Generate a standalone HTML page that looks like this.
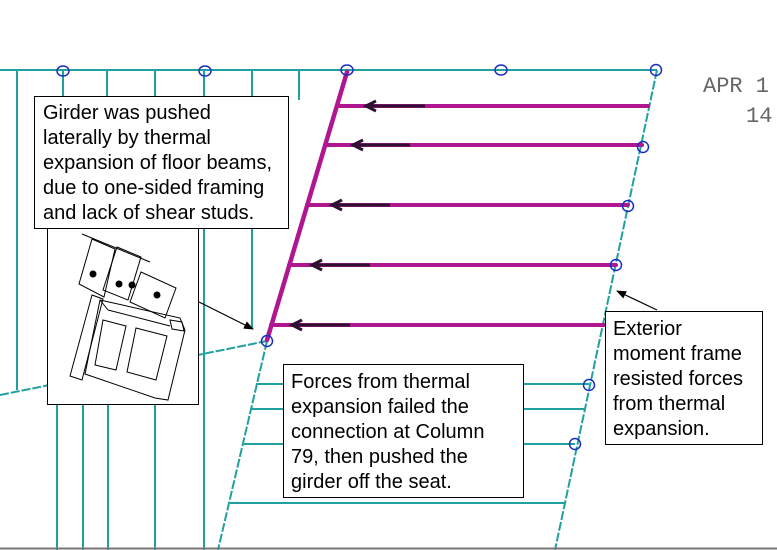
<!DOCTYPE html>
<html><head><meta charset="utf-8"><style>
body{margin:0;background:#fff;width:777px;height:550px;overflow:hidden;position:relative;font-family:"Liberation Sans",Arial,sans-serif}
.box{position:absolute;background:#fff;border:1px solid #000;font-size:20px;line-height:25px;color:#000;box-sizing:border-box;white-space:nowrap}
</style></head><body>
<svg width="777" height="550" style="position:absolute;left:0;top:0">
<defs><marker id="ah" markerWidth="10" markerHeight="8" refX="9" refY="4" orient="auto" markerUnits="userSpaceOnUse"><path d="M0,0 L10,4 L0,8 z" fill="#000"/></marker></defs>
<g stroke="#20a0a0" stroke-width="2" fill="none">
<line x1="0" y1="70" x2="657" y2="70"/>
<line x1="17" y1="70" x2="17" y2="390"/>
<line x1="63" y1="70" x2="63" y2="100"/>
<line x1="107" y1="70" x2="107" y2="100"/>
<line x1="155" y1="70" x2="155" y2="100"/>
<line x1="204" y1="70" x2="204" y2="550"/>
<line x1="252" y1="70" x2="252" y2="328"/>
<line x1="299" y1="70" x2="299" y2="100"/>
<line x1="57" y1="400" x2="57" y2="550"/>
<line x1="83" y1="400" x2="83" y2="550"/>
<line x1="108" y1="400" x2="108" y2="550"/>
<line x1="155" y1="400" x2="155" y2="550"/>
<line x1="0" y1="395" x2="267" y2="341" stroke-dasharray="9,2"/>
<line x1="267" y1="341" x2="218" y2="550" stroke-dasharray="9,2"/>
<line x1="657" y1="70" x2="555" y2="550" stroke-dasharray="9,2"/>
<line x1="256" y1="384" x2="589" y2="384"/>
<line x1="251" y1="409" x2="584" y2="409"/>
<line x1="244" y1="444" x2="575" y2="444"/>
<line x1="230" y1="503" x2="564" y2="503"/>
</g>
<g stroke="#b0168f" stroke-width="4" stroke-linecap="round">
<line x1="347" y1="72" x2="267" y2="340" stroke-width="4.5"/>
<line x1="337" y1="106" x2="648" y2="106"/>
<line x1="325" y1="145" x2="642" y2="145"/>
<line x1="307" y1="205" x2="628" y2="205"/>
<line x1="289" y1="265" x2="616" y2="265"/>
<line x1="271" y1="325" x2="605" y2="325"/>
</g>
<g stroke="#301030" stroke-width="3" fill="none">
<line x1="425" y1="106" x2="370" y2="106"/><path d="M376,101 L366,106 L376,111"/>
<line x1="410" y1="145" x2="357" y2="145"/><path d="M363,140 L353,145 L363,150"/>
<line x1="390" y1="205" x2="336" y2="205"/><path d="M342,200 L332,205 L342,210"/>
<line x1="370" y1="265" x2="316" y2="265"/><path d="M322,260 L312,265 L322,270"/>
<line x1="350" y1="325" x2="296" y2="325"/><path d="M302,320 L292,325 L302,330"/>
</g>
<g stroke="#1a2fc0" stroke-width="1.5" fill="none">
<ellipse cx="63" cy="71" rx="6" ry="5"/><ellipse cx="205" cy="71" rx="6" ry="5"/>
<ellipse cx="347" cy="70" rx="6" ry="5"/><ellipse cx="501" cy="70" rx="6" ry="5"/>
<circle cx="656" cy="70" r="5.5"/><circle cx="643" cy="147" r="5.5"/>
<circle cx="628" cy="206" r="5.5"/><circle cx="616" cy="265" r="5.5"/>
<circle cx="267" cy="341" r="5.5"/><circle cx="589" cy="385" r="5.5"/><circle cx="575" cy="444" r="5.5"/>
</g>
<line x1="199" y1="302" x2="253" y2="329" stroke="#000" stroke-width="1.2" marker-end="url(#ah)"/>
<line x1="657" y1="310" x2="617" y2="291" stroke="#000" stroke-width="1.2" marker-end="url(#ah)"/>
<line x1="0" y1="548.5" x2="777" y2="548.5" stroke="#777" stroke-width="2"/>
<text x="703" y="92" font-family="Liberation Mono,monospace" font-size="22" fill="#666">APR 1</text>
<text x="746" y="122" font-family="Liberation Mono,monospace" font-size="22" fill="#666">14</text>
<rect x="47.5" y="226.5" width="151" height="178" fill="#fff" stroke="#000"/>
<g stroke="#000" stroke-width="1" fill="none">
<line x1="82" y1="234" x2="150" y2="262"/>
<polygon points="92,239 115,249 104,297 79,284"/>
<polygon points="117,247 141,257 128,300 103,290"/>
<polygon points="141,272 176,288 165,318 130,302"/>
<polygon points="92,295 103,299 82,380 70,376"/>
<polygon points="100,300 180,318 185,330 168,400 155,398 85,374"/>
<polygon points="170,320 182,322 184,331 172,329"/>
<polygon points="103,320 126,326 116,370 95,365"/>
<polygon points="136,328 167,336 156,380 127,372"/>
<line x1="100" y1="300" x2="108" y2="310"/><line x1="108" y1="310" x2="170" y2="326"/>
</g>
<g fill="#000"><circle cx="93" cy="274" r="3.5"/><circle cx="119" cy="284" r="3.5"/><circle cx="132" cy="285" r="3.5"/><circle cx="157" cy="295" r="3.5"/></g>
</svg>
<div class="box" style="left:34px;top:96px;width:255px;height:133px;padding:4px 8px">Girder was pushed<br>laterally by thermal<br>expansion of floor beams,<br>due to one-sided framing<br>and lack of shear studs.</div>
<div class="box" style="left:283px;top:364px;width:241px;height:134px;padding:5px 7px">Forces from thermal<br>expansion failed the<br>connection at Column<br>79, then pushed the<br>girder off the seat.</div>
<div class="box" style="left:605px;top:311px;width:158px;height:134px;padding:5px 7px">Exterior<br>moment frame<br>resisted forces<br>from thermal<br>expansion.</div>
</body></html>
